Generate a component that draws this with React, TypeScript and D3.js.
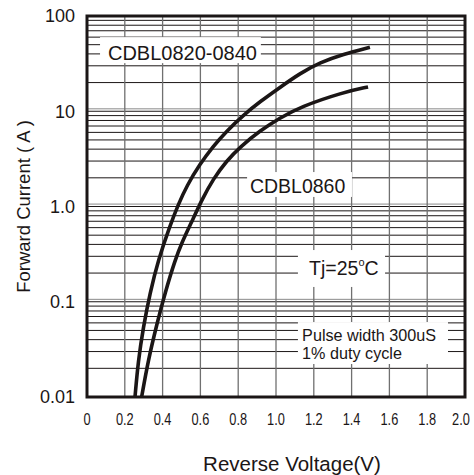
import React from 'react';
import * as d3 from 'd3';

// forward characteristics
const voltsA = [0.254, 0.271, 0.298, 0.333, 0.377, 0.439, 0.483, 0.528, 0.598, 0.668, 0.739, 0.827, 0.915, 1.021, 1.127, 1.233, 1.354, 1.497];
const ampsA = [0.01, 0.024, 0.054, 0.123, 0.275, 0.63, 1.05, 1.65, 2.8, 4.3, 6.2, 9.1, 12.6, 17.8, 25, 32.5, 39.5, 47];
const voltsB = [0.289, 0.324, 0.369, 0.413, 0.466, 0.501, 0.554, 0.607, 0.668, 0.739, 0.81, 0.915, 1.021, 1.127, 1.354, 1.487];
const ampsB = [0.01, 0.0244, 0.0575, 0.124, 0.274, 0.414, 0.69, 1.17, 1.95, 3.02, 4.22, 6.24, 8.5, 11.1, 15.8, 18];

const xTicks = [0, 0.2, 0.4, 0.6, 0.8, 1.0, 1.2, 1.4, 1.6, 1.8, 2.0];
const xTickLabels = ['0', '0.2', '0.4', '0.6', '0.8', '1.0', '1.2', '1.4', '1.6', '1.8', '2.0'];
const yTicks = [100, 10, 1, 0.1, 0.01];
const yTickLabels = ['100', '10', '1.0', '0.1', '0.01'];
const decades = [0.01, 0.1, 1, 10];

const W = 474;
const H = 475;
const left = 87, right = 465, top = 16, bottom = 397;

const x = d3.scaleLinear().domain([0, 2]).range([left, right]);
const y = d3.scaleLog().domain([0.01, 100]).range([bottom, top]);

const curve = d3
  .line<[number, number]>()
  .x(d => x(d[0]))
  .y(d => y(d[1]))
  .curve(d3.curveBasis);

// white boxes behind the annotations, in data units: [v0, v1, iTop, iBottom]
const boxes: [number, number, number, number][] = [
  [0.069, 0.92, 60, 32],
  [0.847, 1.402, 2.3, 1.26],
  [1.116, 1.577, 0.349, 0.143],
  [1.116, 1.91, 0.0612, 0.0222],
];

const minor: number[] = [];
decades.forEach(d => {
  for (let k = 2; k <= 9; k++) minor.push(d * k);
});

const font = 'Arial, "Liberation Sans", Helvetica, sans-serif';
const ink = '#1b1616';

export default function App() {
  const dataA = voltsA.map((v, i) => [v, ampsA[i]] as [number, number]);
  const dataB = voltsB.map((v, i) => [v, ampsB[i]] as [number, number]);

  return (
    <svg width={W} height={H} style={{ position: 'absolute', left: 0, top: 0, background: '#fff' }}>
      {/* horizontal grid */}
      {minor.map(v => (
        <line key={'h' + v} x1={left} x2={right} y1={y(v)} y2={y(v)} stroke={ink} strokeWidth={1} />
      ))}
      {decades.slice(1).map(v => (
        <g key={'d' + v}>
          <line x1={left} x2={right} y1={y(v)} y2={y(v)} stroke={ink} strokeWidth={1} />
          <line x1={left} x2={right} y1={y(v * 1.06)} y2={y(v * 1.06)} stroke="#8a8a8a" strokeWidth={1} />
        </g>
      ))}
      {/* vertical grid */}
      {xTicks.slice(1, -1).map(v => (
        <line key={'v' + v} x1={x(v)} x2={x(v)} y1={top} y2={bottom} stroke="#707070" strokeWidth={1.3} />
      ))}

      {boxes.map((b, i) => (
        <rect key={'b' + i} x={x(b[0])} y={y(b[2])} width={x(b[1]) - x(b[0])} height={y(b[3]) - y(b[2])} fill="#fff" />
      ))}

      <g fontFamily={font} fill={ink}>
        <text x={x(0.111)} y={y(34.5)} fontSize={20}>CDBL0820-0840</text>
        <text x={x(0.862)} y={y(1.39)} fontSize={19.5}>CDBL0860</text>
        <text x={x(1.175)} y={y(0.191)} fontSize={19.5}>
          Tj=25<tspan fontSize={11} dy={-9}>o</tspan>
          <tspan dy={9}>C</tspan>
        </text>
        <text x={x(1.138)} y={y(0.0387)} fontSize={16.2}>Pulse width 300uS</text>
        <text x={x(1.138)} y={y(0.0251)} fontSize={16.2}>1% duty cycle</text>
      </g>

      <path d={curve(dataA) ?? ''} fill="none" stroke={ink} strokeWidth={3.6} />
      <path d={curve(dataB) ?? ''} fill="none" stroke={ink} strokeWidth={3.6} />

      <rect x={left} y={top} width={right - left} height={bottom - top} fill="none" stroke={ink} strokeWidth={3} />

      {/* y axis labels */}
      <g fontFamily={font} fill={ink} fontSize={18} textAnchor="end">
        {yTicks.map((v, i) => (
          <text key={'yt' + v} x={left - 12} y={y(v)} dy="0.35em">{yTickLabels[i]}</text>
        ))}
      </g>
      {/* x axis labels, condensed */}
      <g fontFamily={font} fill={ink} fontSize={16} textAnchor="middle">
        {xTicks.map((v, i) => (
          <text key={'xt' + v} transform={`translate(${Math.min(x(v), 461)}, 425) scale(0.8, 1)`}>
            {xTickLabels[i]}
          </text>
        ))}
      </g>

      <text x={292} y={471} textAnchor="middle" fontFamily={font} fontSize={20.5} fill={ink}>
        Reverse Voltage(V)
      </text>
      <text
        transform={`translate(30, 206.5) rotate(-90)`}
        textAnchor="middle"
        fontFamily={font}
        fontSize={18.5}
        fill={ink}
      >
        Forward Current ( A )
      </text>
    </svg>
  );
}
